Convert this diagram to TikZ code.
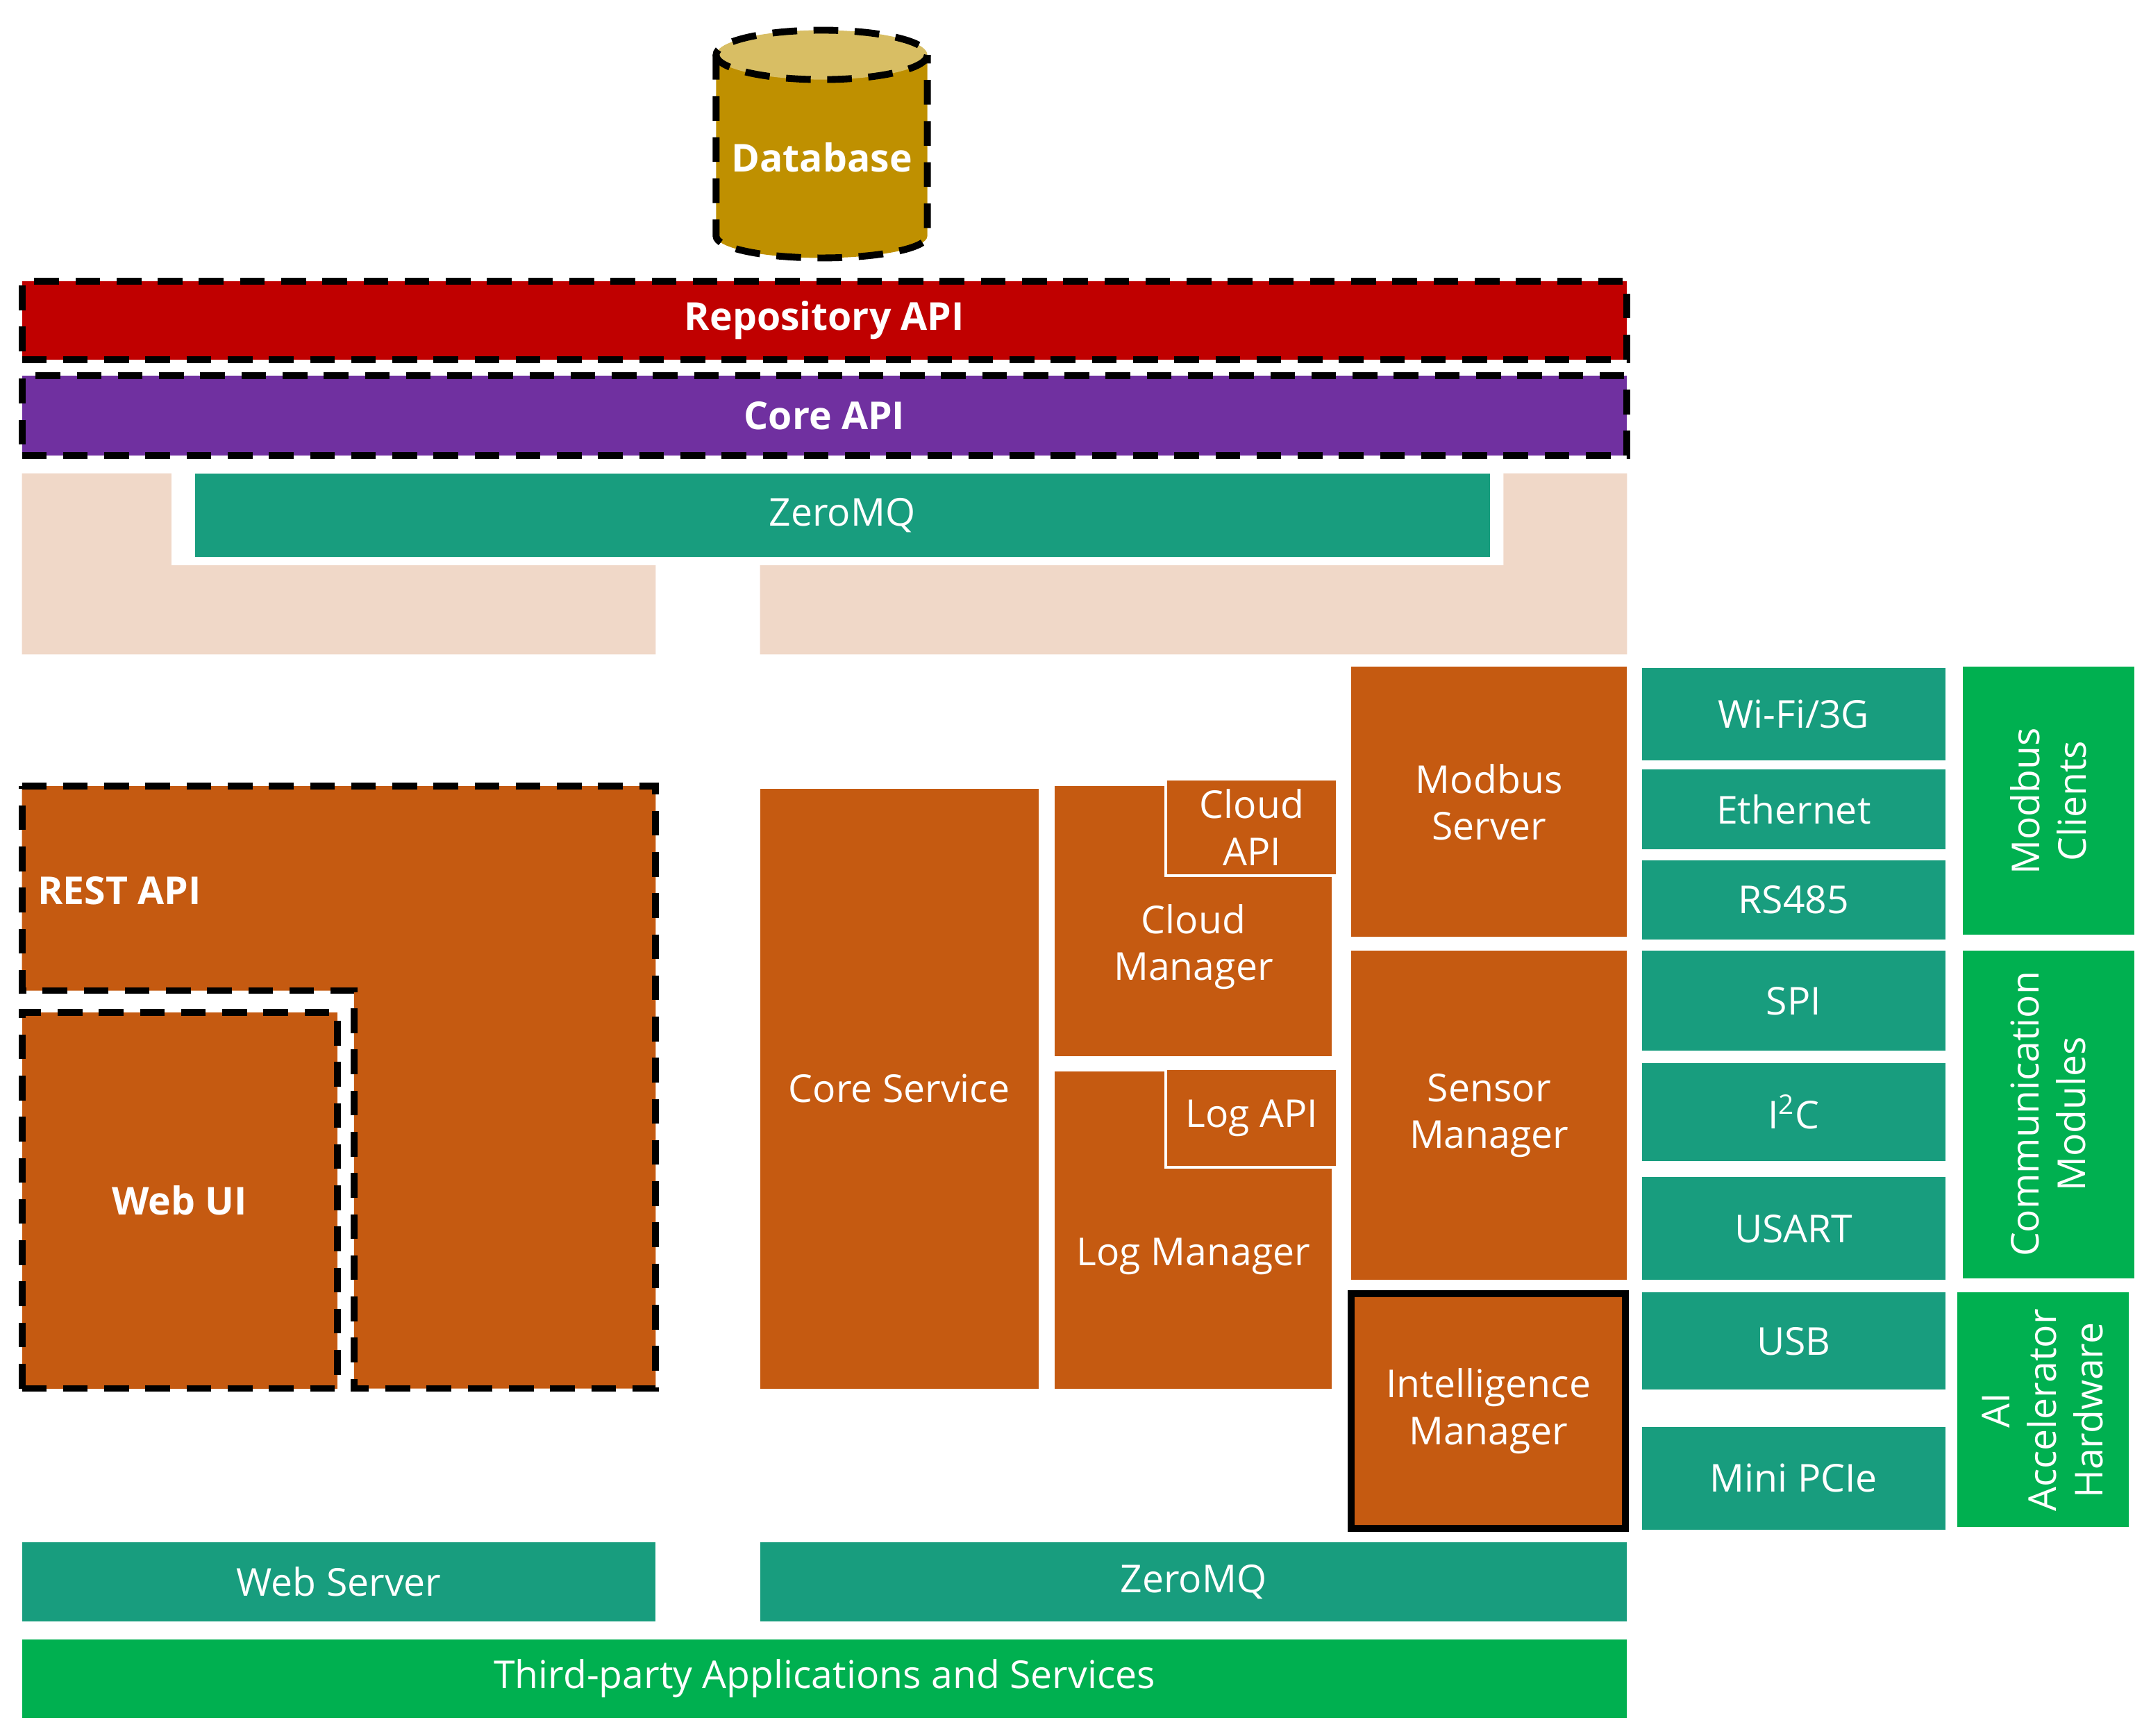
\documentclass[tikz,border=0pt]{standalone}
\usepackage{fontspec}
\setmainfont{Open Sans}
\usetikzlibrary{fit}
\definecolor{teal1}{RGB}{24,157,126}
\definecolor{grn}{RGB}{0,176,80}
\definecolor{org}{RGB}{197,90,17}
\definecolor{peach}{RGB}{240,216,200}
\definecolor{rep}{RGB}{192,0,0}
\definecolor{pur}{RGB}{112,48,160}
\definecolor{db}{RGB}{191,144,0}
\definecolor{dbtop}{RGB}{216,190,100}
\begin{document}
\begin{tikzpicture}[x=0.5pt,y=-0.5pt,
 box/.style={inner sep=0pt,text=white,font=\fontsize{14}{17}\selectfont,align=center},
 bx/.style={box,font=\fontsize{14}{17}\selectfont\bfseries},
 r/.style={inner sep=0pt,fit={#1}},
 t/.style={label={[box]center:#1}},
 tb/.style={label={[bx]center:#1}},
 dsh/.style={draw=black,line width=2.5pt,dash pattern=on 9pt off 6pt},
 rot/.style={box,rotate=90}]
\useasboundingbox (0,0) rectangle (1568,1265);
% database
\fill[db] (522,40) -- (522,172) arc[start angle=180,end angle=360,x radius=77,y radius=-16] -- (676,40) -- cycle;
\fill[dbtop] (599,40) ellipse[x radius=77,y radius=18];
\draw[dsh] (522,40) -- (522,172) arc[start angle=180,end angle=360,x radius=77,y radius=-16] -- (676,40);
\draw[dsh] (599,40) ellipse[x radius=77,y radius=18];
\node[bx] (dbn) at (599,115) {Database};
% APIs
\node[r={(16,205)(1186,262)},fill=rep,dsh,tb={Repository API}] (rep) {};
\node[r={(16,274)(1186,332)},fill=pur,dsh,tb={Core API}] (core) {};
% peach
\fill[peach] (16,345)--(125,345)--(125,412)--(478,412)--(478,477)--(16,477)--cycle;
\fill[peach] (554,412)--(1096,412)--(1096,345)--(1186,345)--(1186,477)--(554,477)--cycle;
\node[r={(142,345)(1086,406)},fill=teal1,t=ZeroMQ] (zmq1) {};
% REST API
\filldraw[org,dsh] (16,573)--(478,573)--(478,1012)--(258,1012)--(258,722)--(16,722)--cycle;
\node[bx] (rest) at (87,649) {REST API};
\node[r={(16,738)(246,1012)},fill=org,dsh,tb={Web UI}] (web) {};
% middle
\node[r={(554,575)(757,1012)},fill=org,t={Core Service}] (cs) {};
\node[r={(769,573)(971,770)},fill=org] (cm) {};
\node[box] at (870,690) {Cloud\\Manager};
\node[r={(850,568)(975,638)},fill=org,draw=white,line width=1pt,t={Cloud\\API}] (capi) {};
\node[r={(769,781)(971,1012)},fill=org] (lm) {};
\node[box] at (870,916) {Log Manager};
\node[r={(850,779)(975,851)},fill=org,draw=white,line width=1pt,t={Log API}] (lapi) {};
\node[r={(985,486)(1186,683)},fill=org,t={Modbus\\Server}] (ms) {};
\node[r={(985,693)(1186,933)},fill=org,t={Sensor\\Manager}] (sm) {};
\node[r={(985,943)(1185,1114)},fill=org,draw=black,line width=2.5pt,t={Intelligence\\Manager}] (im) {};
% right teal
\node[r={(1197,487)(1418,554)},fill=teal1,t={Wi-Fi/3G}] (wifi) {};
\node[r={(1197,561)(1418,619)},fill=teal1,t={Ethernet}] (eth) {};
\node[r={(1197,627)(1418,685)},fill=teal1,t={RS485}] (rs) {};
\node[r={(1197,693)(1418,766)},fill=teal1,t={SPI}] (spi) {};
\node[r={(1197,775)(1418,846)},fill=teal1,t={I\textsuperscript{2}C}] (i2c) {};
\node[r={(1197,858)(1418,933)},fill=teal1,t={USART}] (usart) {};
\node[r={(1197,942)(1418,1013)},fill=teal1,t={USB}] (usb) {};
\node[r={(1197,1040)(1418,1115)},fill=teal1,t={Mini PCIe}] (pcie) {};
% green
\fill[grn] (1431,486) rectangle (1556,681);
\node[rot] (mc) at (1493,584) {Modbus\\Clients};
\fill[grn] (1431,693) rectangle (1556,932);
\node[rot] (cmod) at (1493,812) {Communication\\Modules};
\fill[grn] (1427,942) rectangle (1552,1113);
\node[rot] (ai) at (1489,1028) {AI\\Accelerator\\Hardware};
% bottom
\node[r={(16,1124)(478,1182)},fill=teal1,t={Web Server}] (ws) {};
\node[r={(554,1124)(1186,1182)},fill=teal1,t={ZeroMQ}] (zmq2) {};
\node[r={(16,1195)(1186,1252)},fill=grn,t={Third-party Applications and Services}] (tp) {};
\end{tikzpicture}
\end{document}
